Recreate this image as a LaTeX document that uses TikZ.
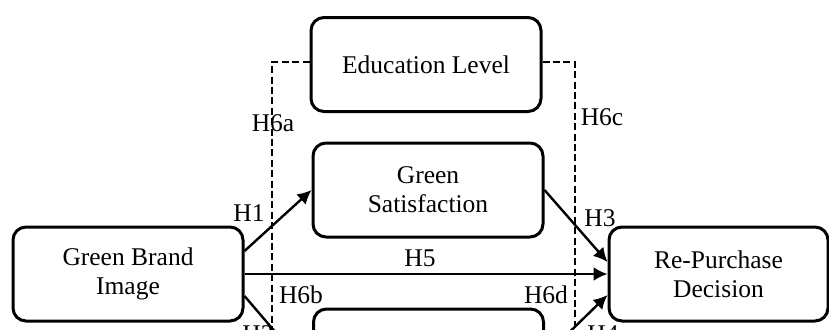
\documentclass[tikz,border=0pt]{standalone}
\usepackage{fontspec}
\setmainfont{Liberation Serif}
\usetikzlibrary{positioning, arrows.meta}

\begin{document}
\begin{tikzpicture}[x=0.5pt, y=-0.5pt,
    box/.style={rectangle, rounded corners=6.5pt, draw=black, line width=1.5pt, align=center, minimum width=115pt, minimum height=47pt, font=\fontsize{12.75}{14.5}\selectfont},
    hyparrow/.style={line width=1.2pt, -{Latex[length=7pt, width=7pt]}},
    moder/.style={line width=0.8pt, dash pattern=on 3.5pt off 1.7pt},
    hyp/.style={font=\fontsize{12.75}{14.5}\selectfont, inner sep=0pt}]
            \useasboundingbox (0, 0) rectangle (829, 329);
            \clip (0, 0) rectangle (829, 329);

            \node[box] (edu) at (426, 64.5) {Education Level};
            \node[box] (sat) at (428, 190) {Green\\Satisfaction};
            \node[box] (gbi) at (128, 274) {Green Brand\\Image};
            \node[box, minimum width=109.5pt] (rpd) at (718.5, 274) {Re-Purchase\\Decision};
            \node[box] (bot) at (428.5, 356) {};

            \coordinate (dl) at (272, 345);
            \coordinate (dr) at (575, 345);
            \draw[moder] ([yshift=1.25pt]edu.west) -| (dl);
            \draw[moder] ([yshift=1.25pt]edu.east) -| (dr);

            \draw[hyparrow] ([yshift=11.5pt]gbi.east) -- (sat.west);
            \draw[hyparrow] ([yshift=-11pt]gbi.east) -- ([yshift=-9.5pt]bot.west);
            \draw[hyparrow] (sat.east) -- ([yshift=6pt]rpd.west);
            \draw[hyparrow] (gbi.east) -- (gbi.east -| rpd.west);
            \draw[hyparrow] (bot.east) -- ([yshift=-10.5pt]rpd.west);

            \node[hyp] (h6a) at (273, 123) {H6a};
            \node[hyp] (h6c) at (602, 117) {H6c};
            \node[hyp] (h1) at (249, 213) {H1};
            \node[hyp] (h3) at (600, 218) {H3};
            \node[hyp] (h5) at (420, 258) {H5};
            \node[hyp] (h6b) at (301, 295) {H6b};
            \node[hyp] (h6d) at (546, 295) {H6d};
            \node[hyp] (h2) at (258, 334) {H2};
            \node[hyp] (h4) at (603, 334) {H4};
        \end{tikzpicture}
\end{document}
